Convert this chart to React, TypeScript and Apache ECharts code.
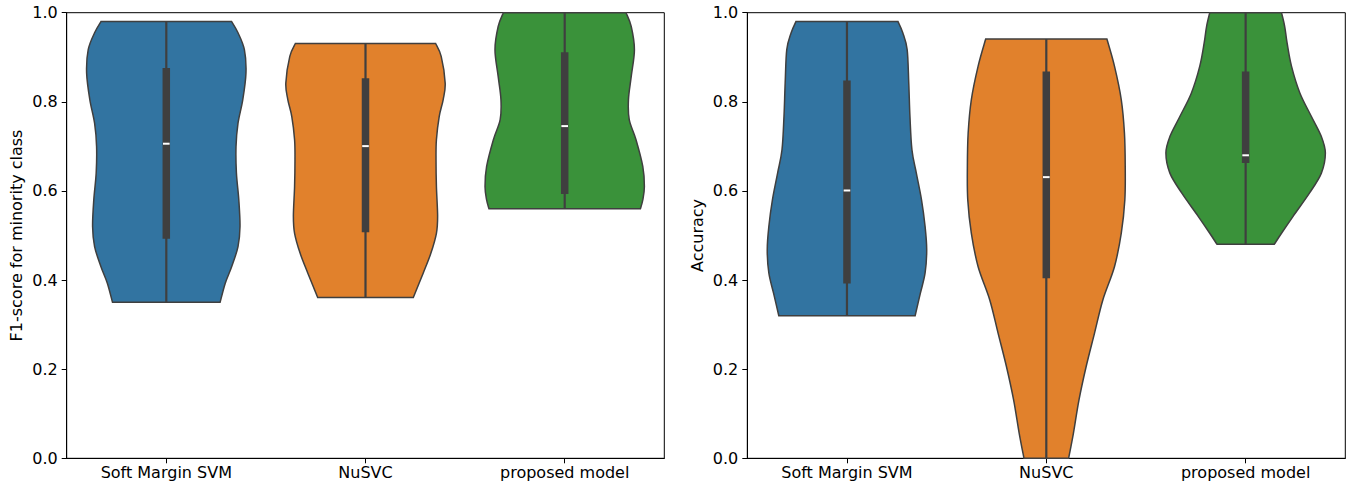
import React, { useEffect, useRef } from "react";
import * as echarts from "echarts";

const categories = ["Soft Margin SVM", "NuSVC", "proposed model"];
const yTicks = [0, 0.2, 0.4, 0.6, 0.8, 1.0];
const violinColors = ["#3274a1", "#e1812c", "#3a923a"];
const leftAxisName = "F1-score for minority class";
const rightAxisName = "Accuracy";

// Violin outlines: [value, relative half width (1 = widest)]
const f1SvmProfile = [
  [0.98, 0.82], [0.955, 0.9], [0.917, 0.98], [0.865, 1.0], [0.805, 0.96], [0.752, 0.9],
  [0.7, 0.875], [0.64, 0.88], [0.58, 0.91], [0.52, 0.925], [0.475, 0.9], [0.43, 0.82],
  [0.393, 0.74], [0.35, 0.675],
];
const f1NuProfile = [
  [0.931, 0.88], [0.902, 0.95], [0.842, 1.0], [0.805, 0.975], [0.767, 0.925], [0.715, 0.89],
  [0.67, 0.885], [0.61, 0.89], [0.543, 0.905], [0.505, 0.89], [0.46, 0.82], [0.416, 0.725],
  [0.361, 0.6],
];
const f1PropProfile = [
  [1.0, 0.77], [0.969, 0.835], [0.917, 0.875], [0.857, 0.835], [0.805, 0.8], [0.76, 0.81],
  [0.715, 0.895], [0.655, 0.98], [0.61, 1.0], [0.58, 0.98], [0.56, 0.95],
];
const accSvmProfile = [
  [0.98, 0.64], [0.955, 0.7], [0.917, 0.755], [0.842, 0.775], [0.767, 0.79], [0.692, 0.815],
  [0.64, 0.87], [0.58, 0.935], [0.52, 0.98], [0.468, 1.0], [0.416, 0.98], [0.37, 0.92],
  [0.32, 0.855],
];
const accNuProfile = [
  [0.941, 0.76], [0.88, 0.855], [0.805, 0.94], [0.73, 0.98], [0.655, 0.99], [0.58, 0.985],
  [0.505, 0.94], [0.43, 0.855], [0.356, 0.71], [0.281, 0.605], [0.206, 0.5], [0.131, 0.41],
  [0.056, 0.34], [0.0, 0.28],
];
const accPropProfile = [
  [1.0, 0.45], [0.969, 0.49], [0.932, 0.52], [0.88, 0.575], [0.82, 0.68], [0.767, 0.825],
  [0.722, 0.95], [0.685, 1.0], [0.64, 0.95], [0.595, 0.8], [0.543, 0.595], [0.505, 0.45],
  [0.4805, 0.36],
];

// Inner box stats: [min, q1, median, q3, max]
const f1SvmStats = [0.35, 0.4925, 0.706, 0.876, 0.98];
const f1NuStats = [0.361, 0.5075, 0.7006, 0.853, 0.931];
const f1PropStats = [0.56, 0.593, 0.7455, 0.911, 1.0];
const accSvmStats = [0.32, 0.392, 0.601, 0.848, 0.98];
const accNuStats = [0.0, 0.404, 0.631, 0.868, 0.941];
const accPropStats = [0.4805, 0.6626, 0.68, 0.868, 1.0];

const FONT = "DejaVu Sans";
const FS = 16;
const DARK = "#3f3f3f";

function catmull(pts: number[][]): string {
  let s = "";
  const n = pts.length;
  for (let i = 0; i < n - 1; i++) {
    const p0 = pts[Math.max(0, i - 1)];
    const p1 = pts[i];
    const p2 = pts[i + 1];
    const p3 = pts[Math.min(n - 1, i + 2)];
    const c1x = p1[0] + (p2[0] - p0[0]) / 6;
    const c1y = p1[1] + (p2[1] - p0[1]) / 6;
    const c2x = p2[0] - (p3[0] - p1[0]) / 6;
    const c2y = p2[1] - (p3[1] - p1[1]) / 6;
    s += ` C${c1x},${c1y} ${c2x},${c2y} ${p2[0]},${p2[1]}`;
  }
  return s;
}

function makeRenderItem(profiles: number[][][], stats: number[][]) {
  return (params: any, api: any) => {
    const i = api.value(0);
    const prof = profiles[i];
    const st = stats[i];
    const band = api.size([1, 0])[0];
    const halfMax = band * 0.4;
    const cx = api.coord([i, 0])[0];
    const right = prof.map(([v, w]) => [cx + w * halfMax, api.coord([i, v])[1]]);
    const left = prof.map(([v, w]) => [cx - w * halfMax, api.coord([i, v])[1]]).reverse();
    let d = `M${left[left.length - 1][0]},${left[left.length - 1][1]} L${right[0][0]},${right[0][1]}`;
    d += catmull(right);
    d += ` L${left[0][0]},${left[0][1]}`;
    d += catmull(left);
    d += " Z";
    const yMin = api.coord([i, st[0]])[1];
    const yQ1 = api.coord([i, st[1]])[1];
    const yMed = api.coord([i, st[2]])[1];
    const yQ3 = api.coord([i, st[3]])[1];
    const yMax = api.coord([i, st[4]])[1];
    return {
      type: "group",
      children: [
        {
          type: "path",
          shape: { pathData: d },
          style: { fill: violinColors[i], stroke: DARK, lineWidth: 1.5 },
        },
        {
          type: "line",
          shape: { x1: cx, y1: yMin, x2: cx, y2: yMax },
          style: { stroke: DARK, lineWidth: 2.2 },
        },
        {
          type: "rect",
          shape: { x: cx - 3.75, y: yQ3, width: 7.5, height: yQ1 - yQ3 },
          style: { fill: DARK },
        },
        {
          type: "rect",
          shape: { x: cx - 3.3, y: yMed - 1, width: 6.6, height: 2 },
          style: { fill: "#ffffff" },
        },
      ],
    };
  };
}

function xAxisCfg(gridIndex: number) {
  return {
    type: "category",
    gridIndex,
    data: categories,
    boundaryGap: true,
    axisLine: { show: true, lineStyle: { color: "#000", width: 1 } },
    axisTick: { show: true, alignWithLabel: true, length: 5, lineStyle: { color: "#000", width: 1 } },
    axisLabel: { color: "#000", fontFamily: FONT, fontSize: FS, margin: 6 },
    splitLine: { show: false },
  };
}

function yAxisCfg(gridIndex: number, name: string) {
  return {
    type: "value",
    gridIndex,
    min: yTicks[0],
    max: yTicks[yTicks.length - 1],
    interval: 0.2,
    name,
    nameLocation: "middle",
    nameGap: 42,
    nameTextStyle: { color: "#000", fontFamily: FONT, fontSize: FS },
    axisLine: { show: true, lineStyle: { color: "#000", width: 1 } },
    axisTick: { show: true, length: 5, lineStyle: { color: "#000", width: 1 } },
    axisLabel: {
      color: "#000",
      fontFamily: FONT,
      fontSize: FS,
      margin: 9,
      formatter: (v: number) => v.toFixed(1),
    },
    splitLine: { show: false },
  };
}

export default function App() {
  const ref = useRef<HTMLDivElement>(null);
  useEffect(() => {
    if (!ref.current) return;
    const chart = echarts.init(ref.current, undefined, { renderer: "svg" });
    const data = categories.map((_, i) => [i, 0.5]);
    chart.setOption({
      animation: false,
      backgroundColor: "#ffffff",
      grid: [
        { left: 66.7, top: 12.7, width: 597.6, height: 445.6, show: true, borderColor: "#000", borderWidth: 1, containLabel: false },
        { left: 747.3, top: 12.7, width: 598, height: 445.6, show: true, borderColor: "#000", borderWidth: 1, containLabel: false },
      ],
      xAxis: [xAxisCfg(0), xAxisCfg(1)],
      yAxis: [yAxisCfg(0, leftAxisName), yAxisCfg(1, rightAxisName)],
      series: [
        {
          type: "custom",
          xAxisIndex: 0,
          yAxisIndex: 0,
          data,
          clip: false,
          renderItem: makeRenderItem([f1SvmProfile, f1NuProfile, f1PropProfile], [f1SvmStats, f1NuStats, f1PropStats]),
        },
        {
          type: "custom",
          xAxisIndex: 1,
          yAxisIndex: 1,
          data,
          clip: false,
          renderItem: makeRenderItem([accSvmProfile, accNuProfile, accPropProfile], [accSvmStats, accNuStats, accPropStats]),
        },
      ],
    });
    return () => chart.dispose();
  }, []);
  return (
    <div
      ref={ref}
      style={{ position: "fixed", left: 0, top: 0, width: 1349, height: 487, background: "#fff" }}
    />
  );
}
